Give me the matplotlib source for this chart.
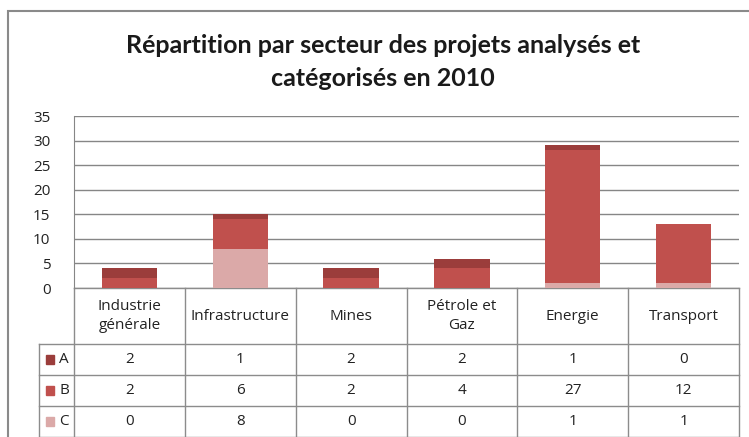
import matplotlib
matplotlib.use("Agg")
from matplotlib import pyplot as plt
from matplotlib.transforms import blended_transform_factory
from matplotlib.patches import Rectangle
import numpy as np

plt.rcParams['font.family'] = ['Lato', 'DejaVu Sans']

# data
secteurs = ["Industrie\ngénérale", "Infrastructure", "Mines", "Pétrole et\nGaz", "Energie", "Transport"]
series = ["A", "B", "C"]
val_a = [2, 1, 2, 2, 1, 0]
val_b = [2, 6, 2, 4, 27, 12]
val_c = [0, 8, 0, 0, 1, 1]
couleurs = {"A": "#9b3d3b", "B": "#c0504d", "C": "#dba9a8"}
titre = "Répartition par secteur des projets analysés et\ncatégorisés en 2010"

W, H = 749, 437
fig = plt.figure(figsize=(W / 100, H / 100), dpi=100)

# outer chart border
fig.add_artist(Rectangle((8 / W, -0.1), 1.2, 1 - 11 / H + 0.1, transform=fig.transFigure,
                         fill=False, edgecolor="#8a8a8a", linewidth=1.5))

fig.text(383 / W, 1 - 62 / H, titre, ha="center", va="center", fontsize=18,
         fontweight="bold", linespacing=1.5, color="#1a1a1a")

# plot area in pixels
left, right, top, bottom = 74, 739, 116, 288
ax = fig.add_axes([left / W, 1 - bottom / H, (right - left) / W, (bottom - top) / H])

x = np.arange(len(secteurs))
vals = {"A": val_a, "B": val_b, "C": val_c}
base = np.zeros(len(secteurs))
for s in ["C", "B", "A"]:
    ax.bar(x, vals[s], 0.5, bottom=base, color=couleurs[s], zorder=3)
    base += np.array(vals[s])

ax.set_xlim(-0.5, len(secteurs) - 0.5)
ax.set_ylim(0, 35)
ax.set_yticks(range(0, 36, 5))
ax.set_xticks([])
ax.tick_params(axis="y", length=0, pad=17, labelsize=11, labelcolor="#222222")
for lab in ax.get_yticklabels():
    lab.set_fontfamily(["Open Sans", "DejaVu Sans"])
ax.grid(axis="y", color="#868686", linewidth=1, zorder=0)
for sp in ["top", "right", "bottom"]:
    ax.spines[sp].set_visible(False)
ax.spines["left"].set_color("#868686")

# data table under the axis
axh = bottom - top
unit = (right - left) / len(secteurs)
tr = blended_transform_factory(ax.transData, ax.transAxes)
header_h, row_h = 56, 31
line_kw = dict(color="#8c8c8c", linewidth=1, transform=tr, clip_on=False)
xl = -0.5 - 35 / unit
xr = len(secteurs) - 0.5

def yax(px):
    return -px / axh

# column lines
for i in range(len(secteurs) + 1):
    ax.plot([i - 0.5, i - 0.5], [0, yax(header_h + 3 * row_h + 5)], **line_kw)
ax.plot([-0.5, xr], [0, 0], **line_kw)
ax.plot([xl, xl], [yax(header_h), yax(header_h + 3 * row_h + 5)], **line_kw)
for r in range(3):
    yy = yax(header_h + r * row_h)
    ax.plot([xl, xr], [yy, yy], **line_kw)
yy = yax(header_h + 3 * row_h)
ax.plot([xl, xr], [yy, yy], **line_kw)

txt_kw = dict(transform=tr, ha="center", va="center", fontsize=11, color="#222222",
              family=["Open Sans", "DejaVu Sans"], clip_on=False)
for i, s in enumerate(secteurs):
    ax.text(i, yax(header_h / 2), s, linespacing=1.3, **txt_kw)
for r, s in enumerate(series):
    yc = yax(header_h + r * row_h + row_h / 2)
    for i, v in enumerate(vals[s]):
        ax.text(i, yc, str(v), **txt_kw)
    ax.add_patch(Rectangle((xl + 7 / unit, yc - 4.5 / axh), 8 / unit, 9 / axh,
                           transform=tr, color=couleurs[s], clip_on=False))
    ax.text(xl + 25 / unit, yc, s, **txt_kw)

fig.savefig("out.png", dpi=100)
